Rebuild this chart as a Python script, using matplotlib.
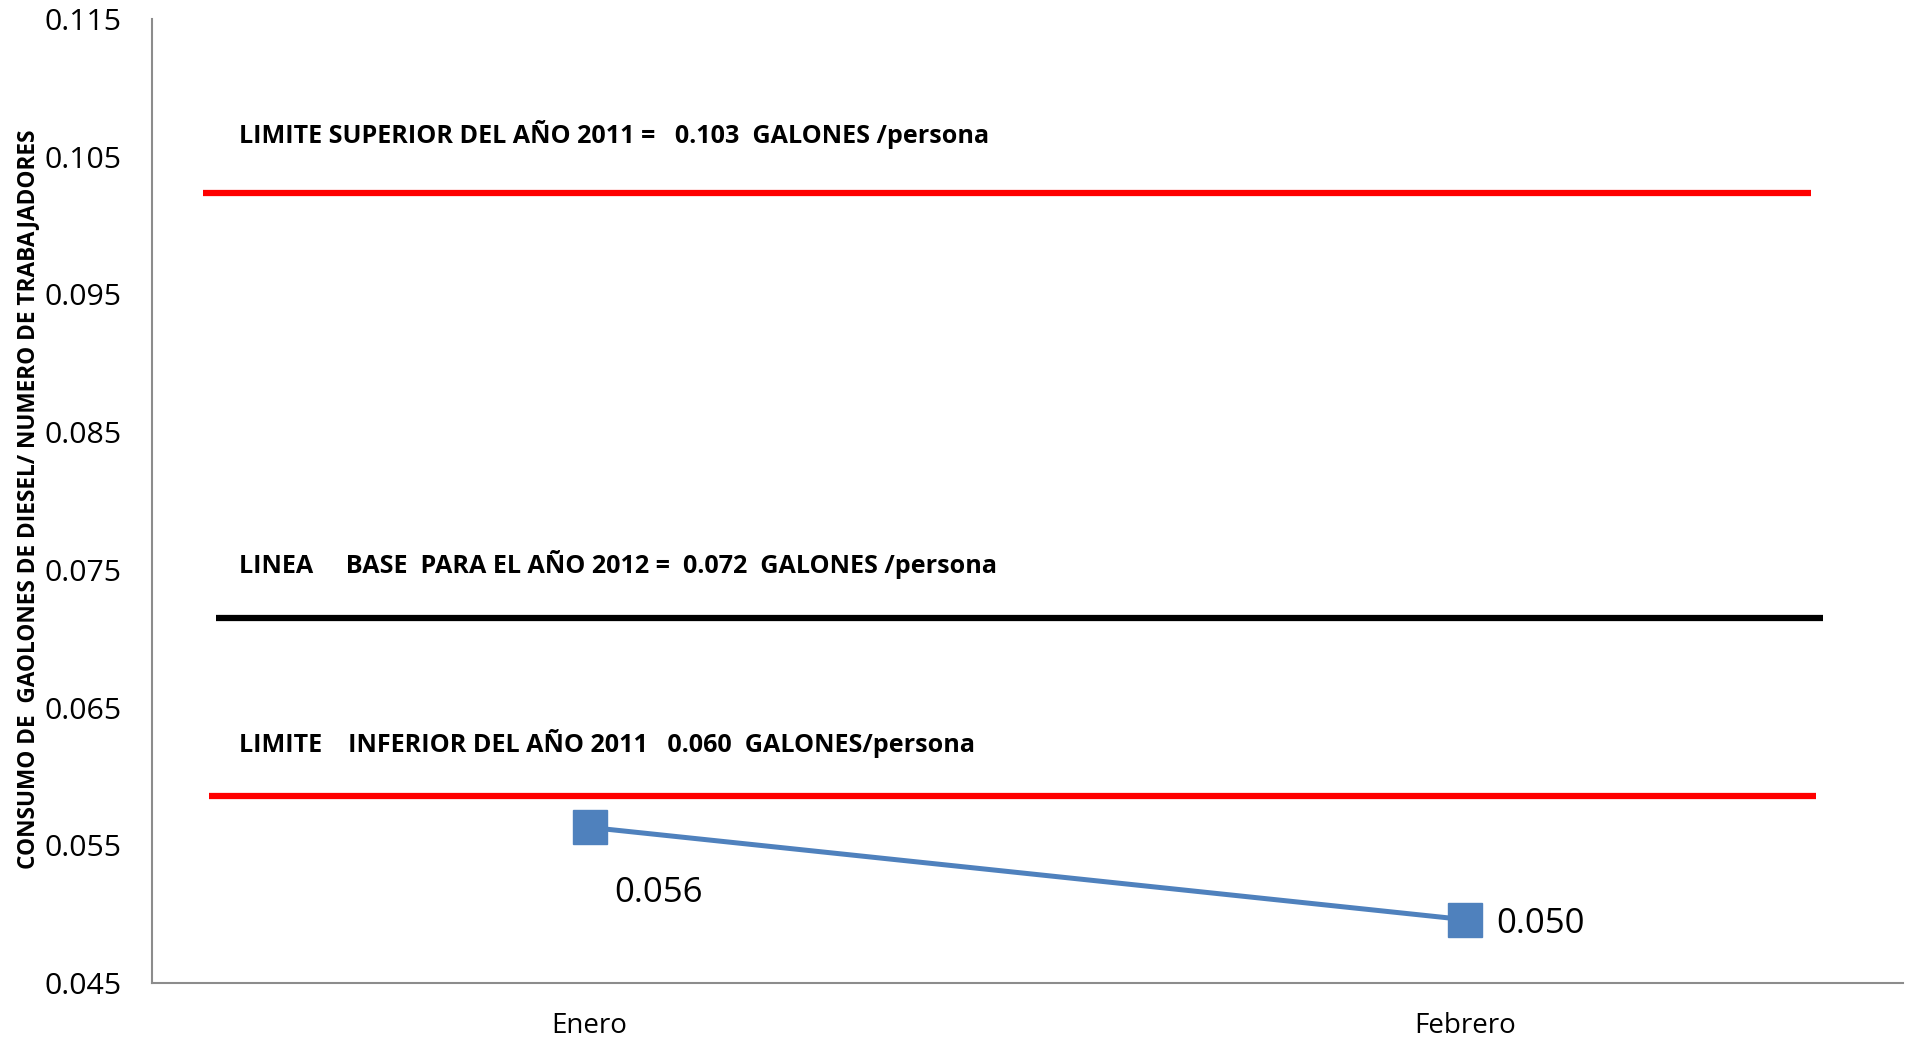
import numpy as np
import matplotlib.pyplot as plt

# datos
meses = ['Enero', 'Febrero']
consumo = [0.0563, 0.0496]
etiquetas = ['0.056', '0.050']

limite_sup = 0.1024
linea_base = 0.0715
limite_inf = 0.0586

texto_sup = 'LIMITE SUPERIOR DEL AÑO 2011 =   0.103  GALONES /persona'
texto_base = 'LINEA     BASE  PARA EL AÑO 2012 =  0.072  GALONES /persona'
texto_inf = 'LIMITE    INFERIOR DEL AÑO 2011   0.060  GALONES/persona'

yticks = [0.045, 0.055, 0.065, 0.075, 0.085, 0.095, 0.105, 0.115]

plt.rcParams['font.family'] = ['Open Sans', 'DejaVu Sans']

fig = plt.figure(figsize=(19.06, 10.41), dpi=100)
ax = fig.add_axes([0.0797, 0.0557, 0.9187, 0.926])

x = np.arange(len(meses))

# lineas de referencia
ax.plot([-0.442, 1.395], [limite_sup, limite_sup], color='#ff0000', lw=4.5, solid_capstyle='butt')
ax.plot([-0.427, 1.409], [linea_base, linea_base], color='black', lw=4.5, solid_capstyle='butt')
ax.plot([-0.435, 1.401], [limite_inf, limite_inf], color='#ff0000', lw=4.5, solid_capstyle='butt')

ax.text(-0.40, 0.1066, texto_sup, fontsize=18.1, fontweight='bold', va='center', ha='left')
ax.text(-0.40, 0.0754, texto_base, fontsize=18.1, fontweight='bold', va='center', ha='left')
ax.text(-0.40, 0.0624, texto_inf, fontsize=18.1, fontweight='bold', va='center', ha='left')

# serie
ax.plot(x, consumo, color='#4f81bd', lw=3.6, marker='s', markersize=24, zorder=5)
ax.annotate(etiquetas[0], (x[0], consumo[0]), xytext=(69, -66), textcoords='offset pixels',
            ha='center', va='center', fontsize=25)
ax.annotate(etiquetas[1], (x[1], consumo[1]), xytext=(31, -4), textcoords='offset pixels',
            ha='left', va='center', fontsize=25)

ax.set_xlim(-0.5, 1.5)
ax.set_ylim(0.045, 0.115)
ax.set_yticks(yticks)
ax.set_yticklabels(['%.3f' % v for v in yticks])
ax.set_xticks(x)
ax.set_xticklabels(meses)
ax.tick_params(axis='y', length=0, pad=22, labelsize=21.8)
ax.tick_params(axis='x', length=0, pad=21, labelsize=20)

for s in ['top', 'right']:
    ax.spines[s].set_visible(False)
for s in ['left', 'bottom']:
    ax.spines[s].set_color('#8c8c8c')
    ax.spines[s].set_linewidth(1.5)

fig.text(0.0145, 0.52, 'CONSUMO DE  GAOLONES DE DIESEL/ NUMERO DE TRABAJADORES',
         rotation=90, fontsize=16.3, fontweight='bold', ha='center', va='center')

fig.savefig('out.png', dpi=100)
